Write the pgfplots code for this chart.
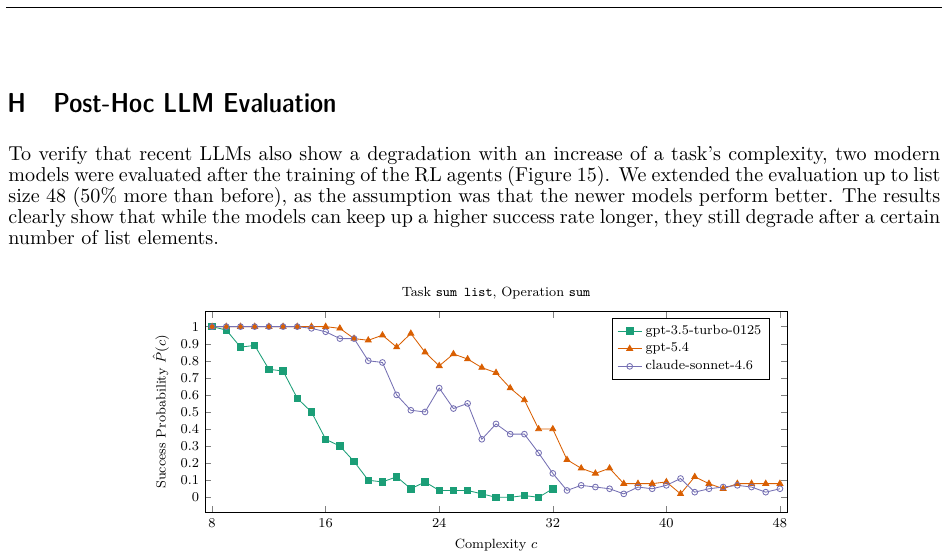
\documentclass[border=0pt]{standalone}
\usepackage{pgfplots}
\pgfplotsset{compat=1.18}
\definecolor{cgreen}{HTML}{1B9E77}
\definecolor{corange}{HTML}{D95F02}
\definecolor{cpurple}{HTML}{7570B3}
\newcommand\chartfont{\fontsize{7.9}{9.5}\selectfont}
\font\bodyfont="[lmroman10-regular]:mapping=tex-text" at 11.85pt
\newcommand\textfnt{\bodyfont}
\begin{document}
\begin{tikzpicture}
\begin{scope}[x=0.59pt,y=-0.59pt]
\path[use as bounding box] (0,0) rectangle (948,555);
\draw[line width=0.5pt] (6,7) -- (942,7);
\node[anchor=base west,inner sep=0] at (7,113) {\fontsize{16.2}{19}\fontseries{sbc}\sffamily H};
\node[anchor=base west,inner sep=0] at (53,113) {\fontsize{16.2}{19}\fontseries{sbc}\sffamily Post-Hoc LLM Evaluation};
\node[anchor=base west,inner sep=0] at (8,161) {\textfnt\hbox to 549.9pt{To verify that recent LLMs also show a degradation with an increase of a task's complexity, two modern}};
\node[anchor=base west,inner sep=0] at (8,181.8) {\textfnt\hbox to 549.9pt{models were evaluated after the training of the RL agents (Figure 15). We extended the evaluation up to list}};
\node[anchor=base west,inner sep=0] at (8,202.6) {\textfnt\hbox to 549.9pt{size 48 (50\% more than before), as the assumption was that the newer models perform better. The results}};
\node[anchor=base west,inner sep=0] at (8,223.4) {\textfnt\hbox to 549.9pt{clearly show that while the models can keep up a higher success rate longer, they still degrade after a certain}};
\node[anchor=base west,inner sep=0] at (8,244.2) {\textfnt number of list elements.};
\end{scope}
\begin{axis}[
  at={(120.95pt,-302.26pt)}, anchor=south west,
  scale only axis, width=343.4pt, height=118.4pt,
  xmin=7.5, xmax=48.5, ymin=-0.088, ymax=1.088,
  xtick={8,16,24,32,40,48},
  ytick={0,0.1,0.2,0.3,0.4,0.5,0.6,0.7,0.8,0.9,1},
  major tick length=3.5pt,
  tick label style={font=\chartfont},
  label style={font=\chartfont},
  title style={font=\chartfont, yshift=-2pt},
  title={Task \texttt{sum list}, Operation \texttt{sum}},
  xlabel={Complexity $c$},
  ylabel={Success Probability $\hat{P}(c)$},
  legend style={font=\chartfont, at={(0.971,0.968)}, anchor=north east, draw=black, row sep=-0.5pt},
  legend cell align=left,
  legend image code/.code={\draw[mark repeat=2,mark phase=2,#1] plot coordinates {(0cm,0cm) (0.25cm,0cm) (0.5cm,0cm)};},
]
\addplot[color=cgreen, mark=square*, mark size=1.9pt, line width=0.5pt] coordinates {
(8,1.00) (9,0.98) (10,0.88) (11,0.89) (12,0.75) (13,0.74) (14,0.58) (15,0.50)
(16,0.34) (17,0.30) (18,0.21) (19,0.10) (20,0.09) (21,0.12) (22,0.05) (23,0.09)
(24,0.04) (25,0.04) (26,0.04) (27,0.02) (28,0.00) (29,0.00) (30,0.01) (31,0.00) (32,0.05)};
\addlegendentry{gpt-3.5-turbo-0125}
\addplot[color=corange, mark=triangle*, mark size=2pt, line width=0.5pt] coordinates {
(8,1.00) (9,1.00) (10,1.00) (11,1.00) (12,1.00) (13,1.00) (14,1.00) (15,1.00)
(16,1.00) (17,0.99) (18,0.93) (19,0.92) (20,0.95) (21,0.88) (22,0.96) (23,0.85)
(24,0.77) (25,0.84) (26,0.81) (27,0.76) (28,0.73) (29,0.64) (30,0.57) (31,0.40)
(32,0.40) (33,0.22) (34,0.17) (35,0.14) (36,0.17) (37,0.08) (38,0.08) (39,0.08)
(40,0.09) (41,0.02) (42,0.12) (43,0.08) (44,0.05) (45,0.08) (46,0.08) (47,0.08) (48,0.08)};
\addlegendentry{gpt-5.4}
\addplot[color=cpurple, mark=o, mark size=1.7pt, line width=0.5pt] coordinates {
(8,1.00) (9,1.00) (10,1.00) (11,1.00) (12,1.00) (13,1.00) (14,1.00) (15,0.99)
(16,0.97) (17,0.93) (18,0.93) (19,0.80) (20,0.79) (21,0.60) (22,0.51) (23,0.50)
(24,0.64) (25,0.52) (26,0.55) (27,0.34) (28,0.43) (29,0.37) (30,0.37) (31,0.26)
(32,0.14) (33,0.04) (34,0.07) (35,0.06) (36,0.05) (37,0.02) (38,0.06) (39,0.05)
(40,0.07) (41,0.11) (42,0.03) (43,0.05) (44,0.06) (45,0.07) (46,0.06) (47,0.03) (48,0.05)};
\addlegendentry{claude-sonnet-4.6}
\end{axis}
\end{tikzpicture}
\end{document}
